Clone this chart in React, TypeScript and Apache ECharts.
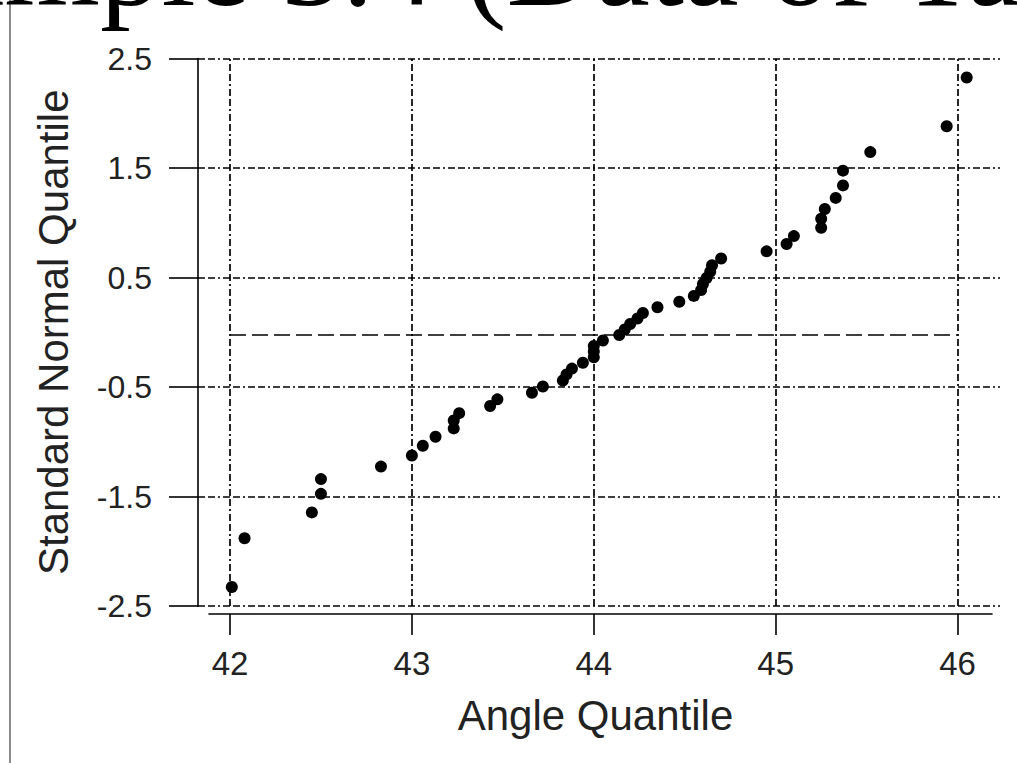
import React, { useEffect, useRef } from "react";
import * as echarts from "echarts";

const chartTitle = "Example 3.4 (Data of Table";
const xAxisTitle = "Angle Quantile";
const yAxisTitle = "Standard Normal Quantile";

const xTicks = [42, 43, 44, 45, 46];
const yTicks = [-2.5, -1.5, -0.5, 0.5, 1.5, 2.5];

const angleQuantile = [
  42.01, 42.08, 42.45, 42.5, 42.5, 42.83, 43.0, 43.06, 43.13, 43.23,
  43.23, 43.26, 43.43, 43.47, 43.66, 43.72, 43.83, 43.85, 43.88, 43.94,
  44.0, 44.0, 44.0, 44.05, 44.14, 44.17, 44.2, 44.24, 44.27, 44.35,
  44.47, 44.55, 44.59, 44.6, 44.62, 44.64, 44.65, 44.7, 44.95, 45.06,
  45.1, 45.25, 45.25, 45.27, 45.33, 45.37, 45.37, 45.52, 45.94, 46.05,
];

const normalQuantile = [
  -2.326, -1.881, -1.645, -1.476, -1.341, -1.227, -1.126, -1.036, -0.954, -0.878,
  -0.806, -0.739, -0.674, -0.613, -0.553, -0.496, -0.44, -0.385, -0.332, -0.279,
  -0.228, -0.176, -0.126, -0.075, -0.025, 0.025, 0.075, 0.126, 0.176, 0.228,
  0.279, 0.332, 0.385, 0.44, 0.496, 0.553, 0.613, 0.674, 0.739, 0.806,
  0.878, 0.954, 1.036, 1.126, 1.227, 1.341, 1.476, 1.645, 1.881, 2.326,
];

const referenceLevel = -0.02;
const referenceSpan = [42, 46];

export default function App() {
  const ref = useRef<HTMLDivElement>(null);

  useEffect(() => {
    const chart = echarts.init(ref.current!, null, { renderer: "svg" });
    const sans = '"Liberation Sans", Arial, sans-serif';
    const gridDash = [7, 3, 7, 3, 2, 3];

    const option: any = {
      animation: false,
      backgroundColor: "#ffffff",
      graphic: [
        {
          type: "line",
          shape: { x1: 10, y1: 0, x2: 10, y2: 763 },
          style: { stroke: "#8a8a8a", lineWidth: 2 },
          silent: true,
        },
        {
          type: "text",
          x: -187,
          y: -37,
          silent: true,
          style: {
            text: chartTitle,
            fontSize: 123,
            fontFamily: '"Liberation Serif", "Times New Roman", serif',
            fill: "#000",
            textAlign: "left",
            textVerticalAlign: "middle",
          },
        },
      ],
      grid: [
        { left: 198, top: 58.5, width: 802, height: 547.5 },
        { left: 209, top: 58.5, width: 783, height: 547.5 },
      ],
      xAxis: [
        {
          gridIndex: 0,
          type: "value",
          min: 41.8241,
          max: 46.2331,
          show: false,
        },
        {
          gridIndex: 1,
          type: "value",
          min: 41.8846,
          max: 46.1892,
          offset: 8,
          position: "bottom",
          splitLine: { show: false },
          axisLine: { show: true, onZero: false, lineStyle: { color: "#000", width: 1.6 } },
          axisTick: {
            show: true,
            customValues: xTicks,
            length: 21,
            lineStyle: { color: "#000", width: 1.6 },
          },
          axisLabel: {
            customValues: xTicks,
            margin: 33,
            fontSize: 33,
            fontFamily: sans,
            color: "#222",
          },
          name: xAxisTitle,
          nameLocation: "middle",
          nameGap: 80,
          nameTextStyle: {
            fontSize: 42,
            fontFamily: sans,
            color: "#222",
            padding: [0, 10, 0, 0],
          },
        },
      ],
      yAxis: [
        {
          gridIndex: 0,
          type: "value",
          min: -2.5,
          max: 2.5,
          splitLine: { show: false },
          axisLine: { show: true, onZero: false, lineStyle: { color: "#000", width: 1.6 } },
          axisTick: {
            show: true,
            customValues: yTicks,
            length: 29,
            lineStyle: { color: "#000", width: 1.6 },
          },
          axisLabel: {
            customValues: yTicks,
            margin: 46,
            fontSize: 32,
            fontFamily: sans,
            color: "#222",
            padding: [8, 0, 0, 0],
          },
          name: yAxisTitle,
          nameLocation: "middle",
          nameGap: 124,
          nameTextStyle: { fontSize: 42, fontFamily: sans, color: "#222" },
        },
        { gridIndex: 1, type: "value", min: -2.5, max: 2.5, show: false },
      ],
      series: [
        {
          type: "scatter",
          xAxisIndex: 0,
          yAxisIndex: 0,
          symbol: "circle",
          symbolSize: 12,
          itemStyle: { color: "#000", opacity: 1 },
          z: 5,
          data: angleQuantile.map((x, i) => [x, normalQuantile[i]]),
          markLine: {
            silent: true,
            symbol: ["none", "none"],
            label: { show: false },
            lineStyle: { color: "#000", width: 1.7, type: gridDash, opacity: 1 },
            data: [
              ...xTicks.map((v) => ({ xAxis: v })),
              ...yTicks.map((v) => ({ yAxis: v })),
              [
                {
                  coord: [referenceSpan[0], referenceLevel],
                  lineStyle: { color: "#000", width: 1.7, type: [16, 6] },
                },
                { coord: [referenceSpan[1], referenceLevel] },
              ],
            ],
          },
        },
      ],
    };

    chart.setOption(option);
    return () => chart.dispose();
  }, []);

  return (
    <div
      ref={ref}
      style={{ position: "absolute", left: 0, top: 0, width: 1017, height: 763 }}
    />
  );
}
